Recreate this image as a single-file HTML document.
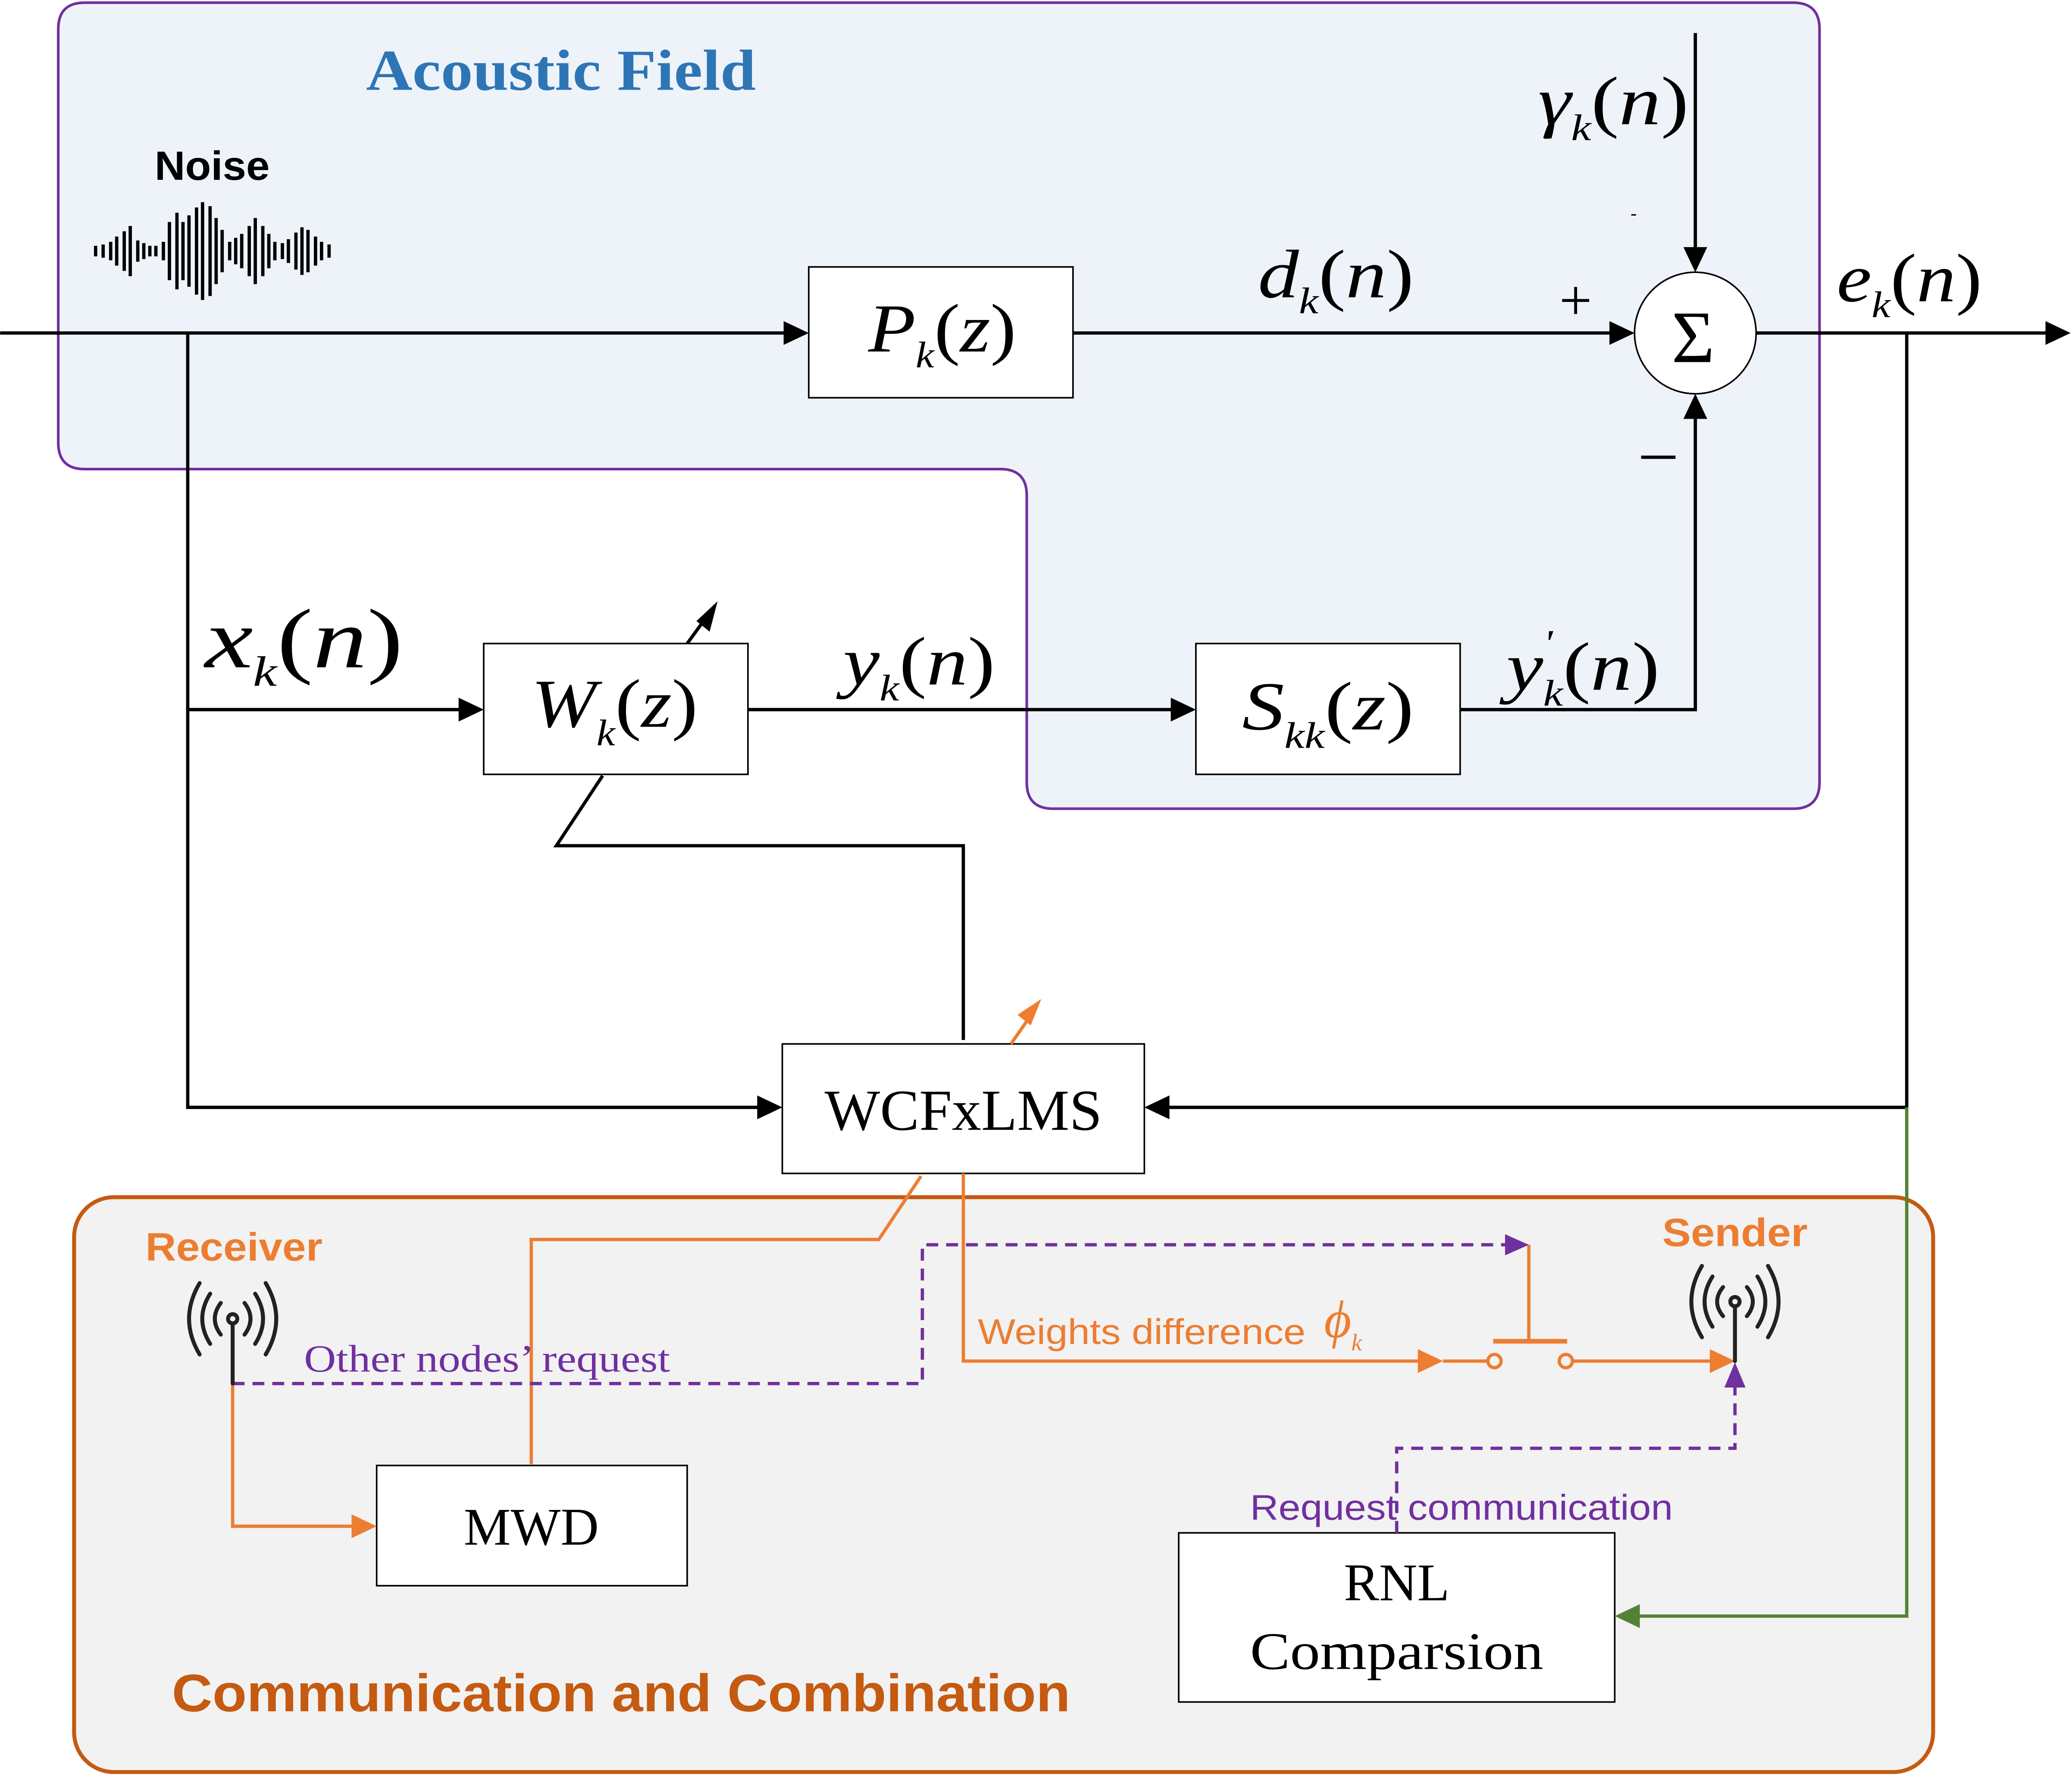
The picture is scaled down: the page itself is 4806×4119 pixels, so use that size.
<!DOCTYPE html>
<html><head><meta charset="utf-8"><style>
html,body{margin:0;padding:0;background:#fff;}
svg{display:block;}
.m{font-family:"Liberation Serif",serif;font-style:italic;fill:#000;}
.s{font-family:"Liberation Serif",serif;fill:#000;}
.b{font-family:"Liberation Sans",sans-serif;font-weight:bold;}
</style></head><body>
<svg width="4806" height="4119" viewBox="0 0 1568 1344" xmlns="http://www.w3.org/2000/svg">
<path d="M64 2 H1357 Q1377 2 1377 22 V592 Q1377 612 1357 612 H797 Q777 612 777 592 V375 Q777 355 757 355 H64 Q44 355 44 335 V22 Q44 2 64 2 Z" fill="#eef3fa" stroke="#7030a0" stroke-width="2"/>
<rect x="56" y="906" width="1407" height="435" rx="30" fill="#f2f2f2" stroke="#c55a11" stroke-width="3"/>
<text x="277" y="68" font-family="Liberation Serif,serif" font-weight="bold" font-size="44" fill="#2e75b6" textLength="295" lengthAdjust="spacingAndGlyphs">Acoustic Field</text>
<text x="117" y="136" class="b" font-size="31" fill="#000" textLength="87" lengthAdjust="spacingAndGlyphs">Noise</text>
<g stroke="#000" stroke-width="2.2" transform="translate(70,0) scale(1.14,1) translate(-70,0)">
<line x1="72" y1="186" x2="72" y2="194"/><line x1="77" y1="185" x2="77" y2="195"/><line x1="82" y1="183" x2="82" y2="197"/>
<line x1="86" y1="179" x2="86" y2="201"/><line x1="91" y1="175" x2="91" y2="205"/><line x1="95" y1="171" x2="95" y2="209"/>
<line x1="100" y1="182" x2="100" y2="198"/><line x1="104" y1="184" x2="104" y2="196"/><line x1="108" y1="186" x2="108" y2="194"/>
<line x1="112" y1="186" x2="112" y2="194"/><line x1="117" y1="183" x2="117" y2="197"/><line x1="121" y1="168" x2="121" y2="212"/>
<line x1="126" y1="161" x2="126" y2="219"/><line x1="130" y1="168" x2="130" y2="212"/><line x1="134" y1="163" x2="134" y2="217"/>
<line x1="139" y1="157" x2="139" y2="223"/><line x1="143" y1="153" x2="143" y2="227"/><line x1="148" y1="156" x2="148" y2="224"/>
<line x1="152" y1="165" x2="152" y2="215"/><line x1="156" y1="174" x2="156" y2="206"/><line x1="161" y1="183" x2="161" y2="197"/>
<line x1="165" y1="180" x2="165" y2="200"/><line x1="169" y1="177" x2="169" y2="203"/><line x1="174" y1="171" x2="174" y2="209"/>
<line x1="178" y1="165" x2="178" y2="215"/><line x1="183" y1="171" x2="183" y2="209"/><line x1="187" y1="177" x2="187" y2="203"/>
<line x1="191" y1="183" x2="191" y2="197"/><line x1="196" y1="184" x2="196" y2="196"/><line x1="200" y1="181" x2="200" y2="199"/>
<line x1="205" y1="176" x2="205" y2="204"/><line x1="209" y1="172" x2="209" y2="208"/><line x1="213" y1="174" x2="213" y2="206"/>
<line x1="218" y1="179" x2="218" y2="201"/><line x1="222" y1="183" x2="222" y2="197"/><line x1="227" y1="185" x2="227" y2="195"/>
</g>
<g stroke="#000" stroke-width="2.5" fill="none">
<line x1="0" y1="252" x2="600" y2="252"/>
<line x1="812" y1="252" x2="1225" y2="252"/>
<line x1="1329" y1="252" x2="1553" y2="252"/>
<line x1="1283" y1="25" x2="1283" y2="192"/>
<polyline points="142,252 142,838 580,838"/>
<line x1="142" y1="537" x2="354" y2="537"/>
<line x1="566" y1="537" x2="893" y2="537"/>
<polyline points="1105,537 1283,537 1283,312"/>
<polyline points="1443,252 1443,838 880,838"/>
<polyline points="456,587 421,640 729,640 729,787"/>
<line x1="520" y1="487" x2="536" y2="465"/>
</g>
<g fill="#000">
<path d="M612,252 L593,243 L593,261 z"/>
<path d="M1237,252 L1218,243 L1218,261 z"/>
<path d="M1567,252 L1548,243 L1548,261 z"/>
<path d="M1283,206 L1274,187 L1292,187 z"/>
<path d="M1283,298 L1274,317 L1292,317 z"/>
<path d="M366,537 L347,528 L347,546 z"/>
<path d="M905,537 L886,528 L886,546 z"/>
<path d="M592,838 L573,829 L573,847 z"/>
<path d="M866,838 L885,829 L885,847 z"/>
<path d="M543,455 L527,470 L537,478 z"/>
</g>
<g fill="#fff" stroke="#000" stroke-width="1.2">
<rect x="612" y="202" width="200" height="99"/>
<rect x="366" y="487" width="200" height="99"/>
<rect x="905" y="487" width="200" height="99"/>
<rect x="592" y="790" width="274" height="98"/>
<rect x="285" y="1109" width="235" height="91"/>
<rect x="892" y="1160" width="330" height="128"/>
<circle cx="1283" cy="252" r="46"/>
</g>
<text x="1265" y="274" class="s" font-size="56">Σ</text>
<text x="657" y="266" class="m" font-size="52" textLength="112" lengthAdjust="spacingAndGlyphs">P<tspan font-size="28" dy="12">k</tspan><tspan font-style="normal" dy="-12">(</tspan>z<tspan font-style="normal">)</tspan></text>
<text x="402" y="550" class="m" font-size="52" textLength="126" lengthAdjust="spacingAndGlyphs">W<tspan font-size="28" dy="14">k</tspan><tspan font-style="normal" dy="-14">(</tspan>z<tspan font-style="normal">)</tspan></text>
<text x="940" y="552" class="m" font-size="52" textLength="130" lengthAdjust="spacingAndGlyphs">S<tspan font-size="28" dy="14">kk</tspan><tspan font-style="normal" dy="-14">(</tspan>z<tspan font-style="normal">)</tspan></text>
<text x="952" y="225" class="m" font-size="52" textLength="118" lengthAdjust="spacingAndGlyphs">d<tspan font-size="28" dy="12">k</tspan><tspan font-style="normal" dy="-12">(</tspan>n<tspan font-style="normal">)</tspan></text>
<text x="1390" y="228" class="m" font-size="52" textLength="110" lengthAdjust="spacingAndGlyphs">e<tspan font-size="28" dy="12">k</tspan><tspan font-style="normal" dy="-12">(</tspan>n<tspan font-style="normal">)</tspan></text>
<text x="1164" y="94" class="m" font-size="52" textLength="114" lengthAdjust="spacingAndGlyphs">γ<tspan font-size="28" dy="12">k</tspan><tspan font-style="normal" dy="-12">(</tspan>n<tspan font-style="normal">)</tspan></text>
<text x="155" y="505" class="m" font-size="64" textLength="150" lengthAdjust="spacingAndGlyphs">x<tspan font-size="32" dy="14">k</tspan><tspan font-style="normal" dy="-14">(</tspan>n<tspan font-style="normal">)</tspan></text>
<text x="638" y="518" class="m" font-size="52" textLength="115" lengthAdjust="spacingAndGlyphs">y<tspan font-size="28" dy="12">k</tspan><tspan font-style="normal" dy="-12">(</tspan>n<tspan font-style="normal">)</tspan></text>
<text x="1140" y="522" class="m" font-size="52" textLength="116" lengthAdjust="spacingAndGlyphs">y<tspan font-size="28" dy="-26">'</tspan><tspan font-size="28" dx="-6" dy="38">k</tspan><tspan font-style="normal" dy="-12">(</tspan>n<tspan font-style="normal">)</tspan></text>
<text x="1180" y="242" class="s" font-size="44">+</text>
<text x="1234" y="166" class="s" font-size="14">-</text>
<line x1="1242" y1="346" x2="1268" y2="346" stroke="#000" stroke-width="2.5"/>
<text x="729" y="855" text-anchor="middle" class="s" font-size="44" textLength="210" lengthAdjust="spacingAndGlyphs">WCFxLMS</text>
<text x="402" y="1169" text-anchor="middle" class="s" font-size="40">MWD</text>
<text x="1057" y="1211" text-anchor="middle" class="s" font-size="40">RNL</text>
<text x="1057" y="1263" text-anchor="middle" class="s" font-size="40" textLength="222" lengthAdjust="spacingAndGlyphs">Comparsion</text>
<text x="110" y="954" class="b" font-size="30" fill="#ed7d31" textLength="134" lengthAdjust="spacingAndGlyphs">Receiver</text>
<text x="1258" y="943" class="b" font-size="30" fill="#ed7d31" textLength="110" lengthAdjust="spacingAndGlyphs">Sender</text>
<text x="130" y="1295" class="b" font-size="40" fill="#c55a11" textLength="680" lengthAdjust="spacingAndGlyphs">Communication and Combination</text>
<g stroke="#ed7d31" stroke-width="2.5" fill="none">
<polyline points="697,890 665,938 402,938 402,1108"/>
<polyline points="176,1000 176,1155 270,1155"/>
<polyline points="729,888 729,1030 1078,1030"/>
<line x1="1092" y1="1030" x2="1125" y2="1030"/>
<line x1="1191" y1="1030" x2="1300" y2="1030"/>
<line x1="1157" y1="942" x2="1157" y2="1015"/>
<line x1="1130" y1="1015" x2="1186" y2="1015" stroke-width="3.5"/>
<circle cx="1131" cy="1030" r="5"/>
<circle cx="1185" cy="1030" r="5"/>
<line x1="765" y1="790" x2="779" y2="770"/>
</g>
<g fill="#ed7d31">
<path d="M285,1155 L266,1146 L266,1164 z"/>
<path d="M1092,1030 L1073,1021 L1073,1039 z"/>
<path d="M1313,1030 L1294,1021 L1294,1039 z"/>
<path d="M788,756 L770,768 L780,776 z"/>
</g>
<text x="740" y="1017" font-family="Liberation Sans,sans-serif" font-size="27" fill="#ed7d31" textLength="248" lengthAdjust="spacingAndGlyphs">Weights difference</text>
<text x="1002" y="1012" class="m" font-size="40" style="fill:#ed7d31">ϕ<tspan font-size="18" dy="10">k</tspan></text>
<g stroke="#7030a0" stroke-width="2.5" fill="none" stroke-dasharray="9,6">
<polyline points="176,1047 698,1047 698,942 1142,942"/>
<polyline points="1057,1160 1057,1096 1313,1096 1313,1050"/>
</g>
<g fill="#7030a0">
<path d="M1157,942 L1139,934 L1139,950 z"/>
<path d="M1313,1031 L1305,1050 L1321,1050 z"/>
</g>
<text x="230" y="1038" font-family="Liberation Serif,serif" font-size="29" fill="#7030a0" textLength="277" lengthAdjust="spacingAndGlyphs">Other nodes’  request</text>
<text x="946" y="1150" font-family="Liberation Sans,sans-serif" font-size="27" fill="#7030a0" textLength="320" lengthAdjust="spacingAndGlyphs">Request communication</text>
<polyline points="1443,838 1443,1223 1238,1223" stroke="#548235" stroke-width="2.5" fill="none"/>
<path d="M1222,1223 L1241,1214 L1241,1232 z" fill="#548235"/>
<g stroke="#222" stroke-width="3" fill="none" stroke-linecap="round">
<circle cx="176" cy="998" r="3.5"/><line x1="176" y1="1002" x2="176" y2="1047"/>
<path d="M167,986 Q158,998 167,1010"/><path d="M185,986 Q194,998 185,1010"/>
<path d="M159,979 Q147,998 159,1017"/><path d="M193,979 Q205,998 193,1017"/>
<path d="M151,971 Q135,998 151,1025"/><path d="M201,971 Q217,998 201,1025"/>
<circle cx="1313" cy="985" r="3.5"/><line x1="1313" y1="989" x2="1313" y2="1030"/>
<path d="M1304,974 Q1295,985 1304,996"/><path d="M1322,974 Q1331,985 1322,996"/>
<path d="M1296,966 Q1284,985 1296,1004"/><path d="M1330,966 Q1342,985 1330,1004"/>
<path d="M1288,958 Q1272,985 1288,1012"/><path d="M1338,958 Q1354,985 1338,1012"/>
</g>
</svg>
</body></html>
